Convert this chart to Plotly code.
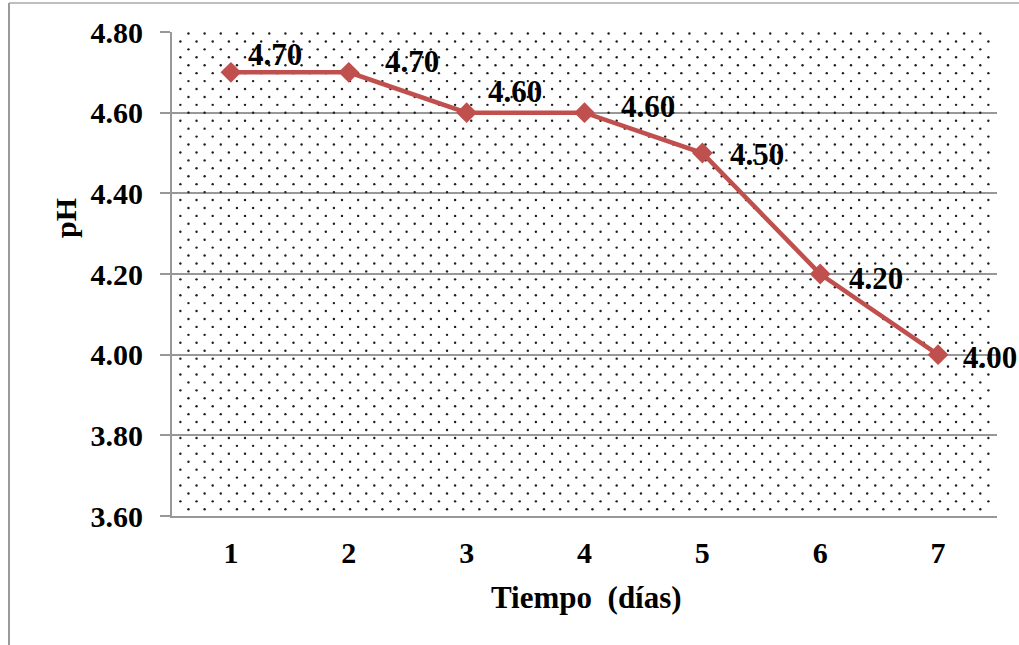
import numpy as np
import plotly.graph_objects as go

# pH over the days of fermentation
dias = [1, 2, 3, 4, 5, 6, 7]
ph = [4.70, 4.70, 4.60, 4.60, 4.50, 4.20, 4.00]
etiquetas = [f"{v:.2f}" for v in ph]
y_ticks = [3.60, 3.80, 4.00, 4.20, 4.40, 4.60, 4.80]

# label offsets from each marker (pixels: right, up)
label_dx = [44, 63, 48, 63, 55, 56, 52]
label_dy = [18, 11, 21, 6, -1, -4, -3]

W, H = 1019, 645
L, R, T, B = 172, 22, 32, 129
PW, PH_ = W - L - R, H - T - B
X0, X1 = 0.5, 7.5
Y0, Y1 = 3.6, 4.8

ROJO = "#C0504D"
GRIS = "#989898"
FONT = "Liberation Serif"

fig = go.Figure()

# dotted background texture (staggered lattice, pixel spacing)
hx, vy = 16.16, 7.93
px_list, py_list = [], []
rows = np.arange(1.5, PH_, vy)
for i, py in enumerate(rows):
    start = 0.3 + (hx if i % 2 == 0 else hx / 2)
    xs = np.arange(start, PW - 4, hx)
    px_list.extend(xs)
    py_list.extend([py] * len(xs))
px_arr = np.array(px_list)
py_arr = np.array(py_list)
fig.add_trace(go.Scatter(
    x=X0 + px_arr / PW * (X1 - X0),
    y=Y1 - py_arr / PH_ * (Y1 - Y0),
    mode="markers",
    marker=dict(size=2.4, color="#1e1e1e", line=dict(width=0)),
    hoverinfo="skip", showlegend=False,
))

fig.add_trace(go.Scatter(
    x=dias, y=ph, mode="lines+markers",
    line=dict(color=ROJO, width=4.5),
    marker=dict(symbol="diamond", size=16, color=ROJO),
    showlegend=False,
))

for xv, yv, txt, dx, dy in zip(dias, ph, etiquetas, label_dx, label_dy):
    fig.add_annotation(x=xv, y=yv, text=f"<b>{txt}</b>", showarrow=False,
                       xshift=dx, yshift=dy, xanchor="center", yanchor="middle",
                       font=dict(family=FONT, size=31, color="black"))


def paper_x(px):
    return (px - L) / PW


def paper_y(py):
    return (H - B - py) / PH_


fig.add_annotation(x=paper_x(65), y=paper_y(218), xref="paper", yref="paper",
                   text="<b>pH</b>", textangle=-90, showarrow=False,
                   xanchor="center", yanchor="middle",
                   font=dict(family=FONT, size=30, color="black"))
fig.add_annotation(x=paper_x(586), y=paper_y(597), xref="paper", yref="paper",
                   text="<b>Tiempo&nbsp;&nbsp;(días)</b>", showarrow=False,
                   xanchor="center", yanchor="middle",
                   font=dict(family=FONT, size=31, color="black"))

# outer frame (left and top edges)
fig.add_shape(type="line", xref="paper", yref="paper",
              x0=paper_x(9), x1=paper_x(9), y0=paper_y(3), y1=paper_y(H + 5),
              line=dict(color="#9a9a9a", width=2))
fig.add_shape(type="line", xref="paper", yref="paper",
              x0=paper_x(9), x1=paper_x(W + 5), y0=paper_y(3), y1=paper_y(3),
              line=dict(color="#a8a8a8", width=1.5))

fig.update_xaxes(
    range=[X0, X1], tickmode="array", tickvals=dias,
    ticktext=[f"<b>{d}</b>" for d in dias],
    showgrid=False, zeroline=False,
    showline=True, linecolor=GRIS, linewidth=2,
    ticks="", ticklabelstandoff=9,
    tickfont=dict(family=FONT, size=30, color="black"),
)
fig.update_yaxes(
    range=[Y0, Y1], tickmode="array", tickvals=y_ticks,
    ticktext=[f"<b>{v:.2f}</b>" for v in y_ticks],
    showgrid=True, gridcolor=GRIS, gridwidth=2, zeroline=False,
    showline=True, linecolor=GRIS, linewidth=2,
    ticks="outside", ticklen=10, tickcolor=GRIS, tickwidth=2,
    ticklabelstandoff=11,
    tickfont=dict(family=FONT, size=30, color="black"),
)

fig.update_layout(
    width=W, height=H,
    margin=dict(l=L, r=R, t=T, b=B),
    paper_bgcolor="white", plot_bgcolor="white",
    showlegend=False,
)

fig.write_html("out.html")
